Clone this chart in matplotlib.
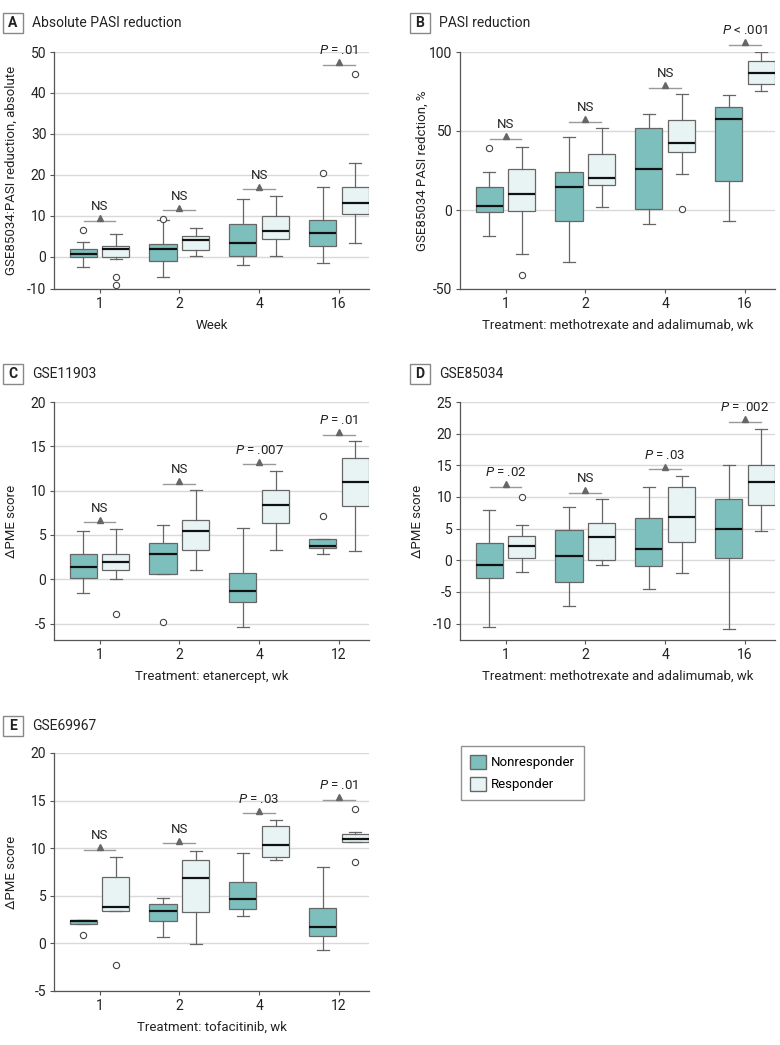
import numpy as np
import matplotlib
matplotlib.use("Agg")
import matplotlib.pyplot as plt
from matplotlib.patches import Patch, Rectangle
from matplotlib import transforms

plt.rcParams["font.family"] = ["Roboto", "DejaVu Sans"]
plt.rcParams["axes.unicode_minus"] = False
plt.rcParams["mathtext.fontset"] = "custom"
plt.rcParams["mathtext.it"] = "Roboto:italic"
plt.rcParams["mathtext.rm"] = "Roboto"

TEAL = "#7dbfbd"
LIGHT = "#e8f4f4"
EDGE = "#666666"
GRID = "#d9d9d9"
TEXT = "#222222"

# box summaries per time point: (lower whisker, Q1, median, Q3, upper whisker)
WEEKS_16 = ["1", "2", "4", "16"]
WEEKS_12 = ["1", "2", "4", "12"]

A_NONRESP = [(-3.1, 0.0, 0.65, 1.9, 3.65), (-6.3, -1.2, 1.9, 3.0, 8.9),
             (-2.6, 0.2, 3.4, 8.0, 14.0), (-2.1, 2.6, 5.7, 9.0, 17.1)]
A_RESP = [(-0.8, -0.1, 1.9, 2.6, 5.5), (0.2, 1.7, 4.0, 5.0, 7.1),
          (0.1, 4.4, 6.3, 9.9, 14.8), (3.3, 10.4, 13.1, 16.9, 22.8)]
A_NONRESP_OUT = [[6.5], [9.3], [], [20.5]]
A_RESP_OUT = [[-6.3, -8.9], [], [], [44.6]]
A_SIG_Y = [8.8, 11.4, 16.5, 46.9]
A_SIG_TEXT = ["NS", "NS", "NS", "$P$ = .01"]

B_NONRESP = [(-16.6, -1.5, 2.7, 14.5, 24.0), (-32.8, -7.0, 14.7, 24.2, 46.5),
             (-9.0, 0.4, 26.1, 51.8, 60.6), (-7.2, 18.3, 57.5, 65.0, 73.0)]
B_RESP = [(-28.0, -0.6, 10.3, 25.7, 39.8), (1.7, 15.6, 20.0, 35.6, 51.6),
          (23.0, 36.6, 42.3, 57.0, 73.3), (75.2, 80.0, 87.0, 94.3, 100.0)]
B_NONRESP_OUT = [[39.4], [], [], []]
B_RESP_OUT = [[-41.0], [], [0.6], []]
B_SIG_Y = [45.0, 56.0, 77.5, 104.6]
B_SIG_TEXT = ["NS", "NS", "NS", "$P$ < .001"]

C_NONRESP = [(-1.5, 0.15, 1.4, 2.85, 5.4), (0.65, 0.65, 2.9, 4.05, 6.1),
             (-5.35, -2.6, -1.3, 0.75, 5.75), (2.8, 3.5, 3.75, 4.6, 4.6)]
C_RESP = [(0.0, 1.05, 2.0, 2.9, 5.7), (1.0, 3.3, 5.45, 6.7, 10.1),
          (3.3, 6.4, 8.4, 10.1, 12.2), (3.15, 8.3, 10.95, 13.7, 15.55)]
C_NONRESP_OUT = [[], [-4.8], [], [7.1]]
C_RESP_OUT = [[-3.95], [], [], []]
C_SIG_Y = [6.45, 10.8, 13.0, 16.3]
C_SIG_TEXT = ["NS", "NS", "$P$ = .007", "$P$ = .01"]

D_NONRESP = [(-10.6, -2.75, -0.7, 2.7, 7.9), (-7.2, -3.5, 0.74, 4.74, 8.4),
             (-4.5, -0.95, 1.7, 6.6, 11.5), (-10.9, 0.37, 5.0, 9.6, 15.0)]
D_RESP = [(-1.9, 0.37, 2.2, 3.9, 5.5), (-0.7, 0.0, 3.6, 5.85, 9.65),
          (-2.05, 2.85, 6.85, 11.5, 13.3), (4.6, 8.7, 12.3, 15.0, 20.8)]
D_NONRESP_OUT = [[], [], [], []]
D_RESP_OUT = [[10.06], [], [], []]
D_SIG_Y = [11.6, 10.7, 14.4, 21.9]
D_SIG_TEXT = ["$P$ = .02", "NS", "$P$ = .03", "$P$ = .002"]

E_NONRESP = [(2.0, 2.0, 2.35, 2.45, 2.45), (0.7, 2.35, 3.45, 4.15, 4.8),
             (2.85, 3.65, 4.7, 6.5, 9.45), (-0.7, 0.73, 1.75, 3.75, 8.0)]
E_RESP = [(3.4, 3.45, 3.85, 6.95, 9.1), (-0.1, 3.35, 6.9, 8.75, 9.75),
          (8.75, 9.1, 10.35, 12.3, 13.0), (10.65, 10.65, 11.0, 11.5, 11.7)]
E_NONRESP_OUT = [[0.87], [], [], []]
E_RESP_OUT = [[-2.3], [], [], [14.15, 8.5]]
E_SIG_Y = [9.86, 10.5, 13.67, 15.1]
E_SIG_TEXT = ["NS", "NS", "$P$ = .03", "$P$ = .01"]

W, H = 780, 1045
fig = plt.figure(figsize=(W / 100, H / 100), dpi=100)


def px_axes(left, top, right, bottom):
    return fig.add_axes([left / W, 1 - bottom / H, (right - left) / W, (bottom - top) / H])


def to_stats(summary, outliers):
    stats = []
    for (lo, q1, med, q3, hi), out in zip(summary, outliers):
        stats.append({"whislo": lo, "q1": q1, "med": med, "q3": q3, "whishi": hi, "fliers": out})
    return stats


def panel_title(left, top, letter, title):
    fig.patches.append(Rectangle((left / W, 1 - (top + 20) / H), 20 / W, 20 / H,
                                 transform=fig.transFigure, facecolor="white",
                                 edgecolor="#888888", linewidth=1))
    fig.text((left + 10) / W, 1 - (top + 10) / H, letter, ha="center", va="center",
             fontsize=10, fontweight="bold", color=TEXT)
    fig.text((left + 29) / W, 1 - (top + 10) / H, title, ha="left", va="center",
             fontsize=10, color=TEXT)


def draw_panel(ax, nonresp, resp, nonresp_out, resp_out, sig_y, sig_text,
               xticklabels, ylim, yticks, ylabel, xlabel):
    pos = np.arange(len(xticklabels))
    common = dict(widths=0.34, capwidths=0.15, patch_artist=True, manage_ticks=False,
                  whiskerprops=dict(color=EDGE, linewidth=0.9),
                  capprops=dict(color=EDGE, linewidth=0.9),
                  medianprops=dict(color="#111111", linewidth=1.6),
                  flierprops=dict(marker="o", markersize=4.5, markerfacecolor="white",
                                  markeredgecolor="#444444", markeredgewidth=0.8))
    ax.bxp(to_stats(nonresp, nonresp_out), positions=pos - 0.205,
           boxprops=dict(facecolor=TEAL, edgecolor=EDGE, linewidth=0.9), **common)
    ax.bxp(to_stats(resp, resp_out), positions=pos + 0.205,
           boxprops=dict(facecolor=LIGHT, edgecolor=EDGE, linewidth=0.9), **common)

    tri = transforms.offset_copy(ax.transData, fig=fig, y=1.8, units="points")
    for i, (y, label) in enumerate(zip(sig_y, sig_text)):
        ax.plot([i - 0.2, i + 0.2], [y, y], color="#999999", linewidth=1, clip_on=False)
        ax.plot([i], [y], marker="^", markersize=5, color="#666666",
                transform=tri, clip_on=False)
        ax.annotate(label, (i, y), xytext=(0, 7.5), textcoords="offset points",
                    ha="center", va="baseline", fontsize=9.5, color=TEXT,
                    annotation_clip=False)

    ax.set_xlim(-0.57, 3.375)
    ax.set_ylim(*ylim)
    ax.set_xticks(pos)
    ax.set_xticklabels(xticklabels)
    ax.set_yticks(yticks)
    ax.set_yticklabels([str(t) for t in yticks])
    ax.yaxis.grid(True, color=GRID, linewidth=1)
    ax.set_axisbelow(True)
    for side in ["top", "right"]:
        ax.spines[side].set_visible(False)
    for side in ["left", "bottom"]:
        ax.spines[side].set_color("#555555")
        ax.spines[side].set_linewidth(0.9)
    ax.tick_params(axis="both", length=3, width=0.8, color="#555555",
                   labelsize=10, labelcolor=TEXT, pad=2.5)
    ax.set_ylabel(ylabel, fontsize=9.5, color=TEXT)
    ax.set_xlabel(xlabel, fontsize=9.5, color=TEXT, labelpad=6)
    ax.yaxis.set_label_coords(-0.115, 0.5)


# panel A: the negative part of the axis is drawn compressed in the original
def squeeze(y):
    y = np.asarray(y, dtype=float)
    return np.where(y < 0, y * 0.79, y)


def unsqueeze(y):
    y = np.asarray(y, dtype=float)
    return np.where(y < 0, y / 0.79, y)


ax_a = px_axes(54, 52, 369, 289)
ax_a.set_yscale("function", functions=(squeeze, unsqueeze))
draw_panel(ax_a, A_NONRESP, A_RESP, A_NONRESP_OUT, A_RESP_OUT, A_SIG_Y, A_SIG_TEXT,
           WEEKS_16, (-10, 50), [-10, 0, 10, 20, 30, 40, 50],
           "GSE85034:PASI reduction, absolute", "Week")
ax_a.yaxis.set_minor_locator(matplotlib.ticker.NullLocator())
panel_title(3, 13, "A", "Absolute PASI reduction")

ax_b = px_axes(460, 52, 775, 289)
draw_panel(ax_b, B_NONRESP, B_RESP, B_NONRESP_OUT, B_RESP_OUT, B_SIG_Y, B_SIG_TEXT,
           WEEKS_16, (-50, 100), [-50, 0, 50, 100],
           "GSE85034 PASI redction, %", "Treatment: methotrexate and adalimumab, wk")
ax_b.yaxis.set_label_coords(-0.10, 0.5)
panel_title(410, 13, "B", "PASI reduction")

ax_c = px_axes(54, 402, 369, 640)
draw_panel(ax_c, C_NONRESP, C_RESP, C_NONRESP_OUT, C_RESP_OUT, C_SIG_Y, C_SIG_TEXT,
           WEEKS_12, (-6.85, 20), [-5, 0, 5, 10, 15, 20],
           "ΔPME score", "Treatment: etanercept, wk")
panel_title(3, 364, "C", "GSE11903")

ax_d = px_axes(460, 402, 775, 640)
draw_panel(ax_d, D_NONRESP, D_RESP, D_NONRESP_OUT, D_RESP_OUT, D_SIG_Y, D_SIG_TEXT,
           WEEKS_16, (-12.6, 25), [-10, -5, 0, 5, 10, 15, 20, 25],
           "ΔPME score", "Treatment: methotrexate and adalimumab, wk")
panel_title(410, 364, "D", "GSE85034")

ax_e = px_axes(54, 753, 369, 991)
draw_panel(ax_e, E_NONRESP, E_RESP, E_NONRESP_OUT, E_RESP_OUT, E_SIG_Y, E_SIG_TEXT,
           WEEKS_12, (-5, 20), [-5, 0, 5, 10, 15, 20],
           "ΔPME score", "Treatment: tofacitinib, wk")
panel_title(3, 716, "E", "GSE69967")

handles = [Patch(facecolor=TEAL, edgecolor=EDGE, label="Nonresponder"),
           Patch(facecolor=LIGHT, edgecolor=EDGE, label="Responder")]
leg = fig.legend(handles=handles, loc="upper left", bbox_to_anchor=(461 / W, 1 - 746 / H),
                 frameon=True, fancybox=False, edgecolor="#777777", fontsize=9.5,
                 handlelength=1.25, handleheight=1.25, labelspacing=0.6, borderpad=0.65,
                 handletextpad=0.4, borderaxespad=0)
leg.get_frame().set_linewidth(1)

fig.savefig("out.png", dpi=100)
